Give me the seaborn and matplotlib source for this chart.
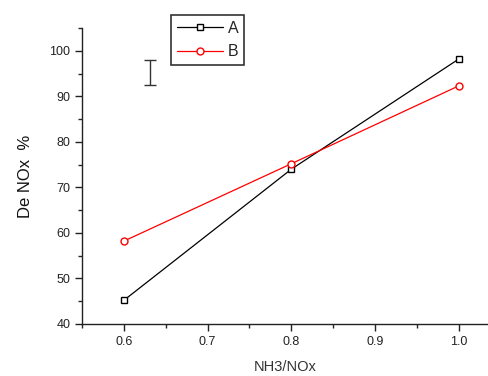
import matplotlib
matplotlib.use("Agg")
import matplotlib.pyplot as plt
import seaborn as sns
import pandas as pd
from matplotlib.ticker import MultipleLocator

ratio = [0.6, 0.8, 1.0]
series_a = [45.2, 74.0, 98.2]
series_b = [58.2, 75.2, 92.3]
err_x = [0.631]
err_y = [95.2]
err_size = [2.7]

sns.set_theme(style="ticks")
plt.rcParams['font.family'] = ['Liberation Sans', 'DejaVu Sans']

df = pd.DataFrame({
    "x": ratio * 2,
    "y": series_a + series_b,
    "s": ["A"] * 3 + ["B"] * 3,
})

fig = plt.figure(figsize=(4.89, 3.76), dpi=100)
ax = fig.add_axes([82 / 489, 52 / 376, 407 / 489, 296 / 376])

sns.lineplot(data=df, x="x", y="y", hue="s", style="s",
             palette={"A": "black", "B": "red"},
             markers={"A": "s", "B": "o"}, dashes=False,
             markersize=5, markerfacecolor="white", markeredgewidth=1.0,
             linewidth=0.9, ax=ax)
for line in ax.lines:
    line.set_markerfacecolor("white")
    line.set_markeredgecolor(line.get_color())

ax.errorbar(err_x, err_y, yerr=err_size, fmt="none", ecolor="#333333",
            elinewidth=1.0, capsize=4, capthick=1.0)

ax.xaxis.set_major_locator(MultipleLocator(0.1))
ax.xaxis.set_minor_locator(MultipleLocator(0.05))
ax.yaxis.set_major_locator(MultipleLocator(10))
ax.yaxis.set_minor_locator(MultipleLocator(5))
ax.set_xticks([0.6, 0.7, 0.8, 0.9, 1.0])
ax.set_xticklabels(["0.6", "0.7", "0.8", "0.9", "1.0"])
ax.set_yticks([40, 50, 60, 70, 80, 90, 100])
ax.tick_params(axis="both", which="major", length=5, width=1.0, labelsize=9,
               colors="#222222", direction="out")
ax.tick_params(axis="both", which="minor", length=3, width=1.0, direction="out")
ax.set_xlim(0.55, 1.036)
ax.set_ylim(40, 105)

sns.despine(ax=ax)
for sp in ["left", "bottom"]:
    ax.spines[sp].set_linewidth(1.0)
    ax.spines[sp].set_color("#222222")

ax.set_xlabel("NH3/NOx", fontsize=10.5, color="#333333", labelpad=9)
ax.set_ylabel("De NOx  %", fontsize=12, color="#111111", labelpad=12)

leg = ax.legend(loc="upper left", bbox_to_anchor=((171 - 82) / 407, 1.0 + 13 / 296),
                frameon=True, fancybox=False, edgecolor="black", fontsize=11.5,
                handlelength=2.9, borderpad=0.35, labelspacing=0.55, handletextpad=0.3,
                borderaxespad=0)
leg.get_frame().set_linewidth(1.2)

fig.savefig("out.png", dpi=100)
